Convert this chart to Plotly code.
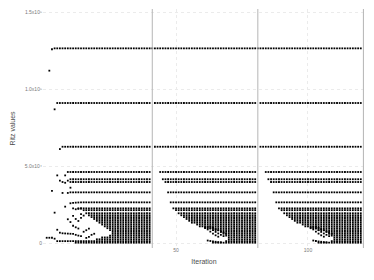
import plotly.graph_objects as go

# Converged Ritz value levels
levels = [126600, 91100, 62700, 46300, 41600, 39800, 33100, 26600, 22700, 21500,
          19500, 18200, 17000, 15800, 14600, 13400, 12200, 11000, 9800, 8600,
          7400, 6200, 5000, 3800, 2600, 1400, 400]
# first iteration at which each level is present in the first cycle (1..40)
seg1_start = [4, 5, 7, 9, 10, 10, 10, 14, 13, 15,
              16, 17, 18, 19, 20, 21, 22, 23, 24, 25,
              26, 26, 25, 22, 20, 5, 12]
# first iteration (relative to the restart offset) in restarted cycles
restart_start = [1, 2, 2, 4, 5, 6, 7, 8, 9, 10,
                 11, 12, 13, 14, 15, 16, 18, 19, 21, 24,
                 27, 28, 29, 30, 30, 29, 24]
cycle_offsets = [0, 40, 80]
cycle_ends = [40, 80, 120]
restart_lines = [41, 81, 121]

# transient (not yet converged) Ritz values, first cycle
trans1_it = [1, 2, 3, 4, 2, 3, 4, 6, 5, 8, 6, 7, 8, 9, 10, 3, 7, 9, 10, 11, 12, 13,
             8, 11, 12, 13, 14, 4, 9, 10, 13, 14, 15, 12, 11, 14, 11, 12, 13,
             5, 6, 7, 8, 9, 10, 11, 12, 13, 14, 15, 16, 17, 16, 17, 18, 19]
trans1_v = [3600, 3600, 3600, 3000, 112100, 126000, 87000, 61200, 44100, 44100, 40700, 39800,
            39300, 40700, 36100, 34000, 32700, 32700, 26000, 26300, 26400, 26500,
            23800, 22700, 22100, 22400, 22600, 19900, 15600, 13800, 14500, 16500, 18000, 15800,
            17800, 19000, 11400, 10400, 9600,
            8800, 6900, 6500, 6400, 6300, 6200, 6100, 5500, 5000, 4600, 7500, 8500, 9500,
            3500, 4200, 5500, 6200]
# transient Ritz values in restarted cycles (iteration relative to restart offset)
trans_r_it = [21, 22, 23, 24, 25, 26, 22, 23, 24, 25, 26, 27, 28,
              23, 24, 25, 26, 27, 28, 29, 22, 23, 24, 25, 26, 27]
trans_r_v = [10300, 9000, 7600, 6300, 5200, 4300, 10600, 9600, 8500, 7400, 6400, 5500, 4700,
             10800, 10000, 9200, 8400, 7600, 6900, 6200, 1800, 1500, 1200, 1000, 800, 700]

xs, ys = [], []
for c, (off, end) in enumerate(zip(cycle_offsets, cycle_ends)):
    for lv, s1, sr in zip(levels, seg1_start, restart_start):
        start = s1 if c == 0 else off + sr
        for it in range(start, end + 1):
            xs.append(it)
            ys.append(lv)
    if c == 0:
        xs.extend(trans1_it)
        ys.extend(trans1_v)
    else:
        xs.extend([off + i for i in trans_r_it])
        ys.extend(trans_r_v)

fig = go.Figure()
fig.add_trace(go.Scatter(x=xs, y=ys, mode="markers",
                         marker=dict(size=1.8, symbol="square", color="black",
                                     line=dict(width=0)),
                         hoverinfo="skip"))

for xv in restart_lines:
    fig.add_shape(type="line", xref="x", yref="paper", x0=xv, x1=xv, y0=0, y1=1,
                  line=dict(color="#b5b5b5", width=1))

fig.update_layout(
    width=374, height=280,
    margin=dict(l=43, r=9, t=9, b=32, autoexpand=False),
    plot_bgcolor="white", paper_bgcolor="white",
    showlegend=False,
    font=dict(family="Liberation Sans", color="#4d4d4d"),
)
fig.update_xaxes(range=[-0.4, 121.6], tickvals=[50, 100], ticktext=["50", "100"],
                 showgrid=True, gridcolor="#ebebeb", griddash="dot", gridwidth=1,
                 zeroline=False, showline=False, ticks="", automargin=False,
                 tickfont=dict(size=5, color="#7a7a7a"), ticklabelstandoff=-2,
                 title=dict(text="Iteration", font=dict(size=7, color="#4d4d4d"), standoff=7))
fig.update_yaxes(range=[-3050, 152150], tickvals=[0, 50000, 100000, 150000],
                 ticktext=["0", "5.0x10⁴", "1.0x10⁵", "1.5x10⁵"],
                 showgrid=True, gridcolor="#ebebeb", griddash="dot", gridwidth=1,
                 zeroline=False, showline=False, ticks="", automargin=False,
                 tickfont=dict(size=5, color="#7a7a7a"),
                 title=dict(text="Ritz values", font=dict(size=7, color="#4d4d4d"), standoff=8))

fig.write_html("out.html", config={"displayModeBar": False},
               post_script="document.body.style.margin='0';document.body.style.overflow='hidden';")
